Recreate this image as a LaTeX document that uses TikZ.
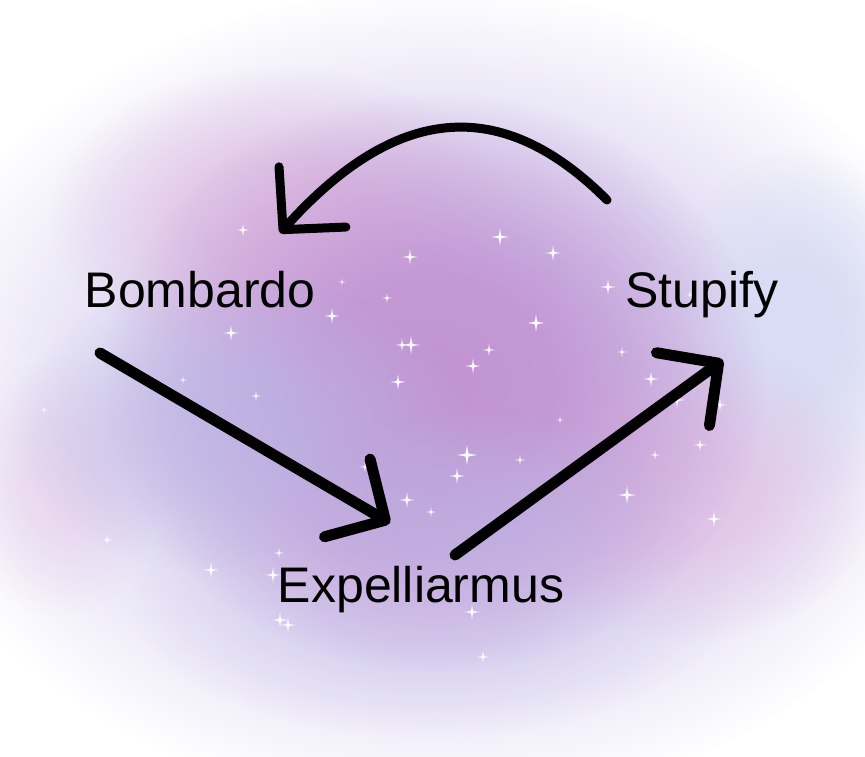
\documentclass[tikz,border=0pt]{standalone}
\usepackage{fontspec}
\setmainfont{Liberation Sans}
\usepackage{tikz}
\usetikzlibrary{arrows.meta,fadings}

% soft round blob: flat in the middle, fading out towards the rim
\pgfdeclareradialshading{blobshading}{\pgfpointorigin}{color(0bp)=(white); color(9bp)=(black!10); color(19bp)=(black!65); color(25bp)=(black); color(50bp)=(black)}
\pgfdeclarefading{blobfade}{\pgfuseshading{blobshading}}

\definecolor{mauve}{RGB}{194,148,210}
\definecolor{lavender}{RGB}{204,196,236}
\definecolor{pinkhaze}{RGB}{224,184,224}
\definecolor{bluehaze}{RGB}{186,184,230}
\definecolor{paleblue}{RGB}{216,220,244}

\newcommand{\twinkle}[3]{%
  \fill[white, opacity=0.4] (#1,#2) circle (0.4*#3);
  \fill[white, opacity=0.95] (#1,#2) +(0,1.3*#3) -- +(0.16*#3,0.16*#3) -- +(1.3*#3,0) -- +(0.16*#3,-0.16*#3)
    -- +(0,-1.3*#3) -- +(-0.16*#3,-0.16*#3) -- +(-1.3*#3,0) -- +(-0.16*#3,0.16*#3) -- cycle;}

\begin{document}
\begin{tikzpicture}[x=1pt, y=1pt,
  spellname/.style={font=\fontsize{50}{60}\selectfont, inner sep=0pt, anchor=base},
  spell/.style={line width=11pt, line cap=round, -{Straight Barb[length=44pt,width=90pt,round]}}]
\useasboundingbox (0,0) rectangle (865,757);
\fill[white] (0,0) rectangle (865,757);

% nebula
\fill[lavender, path fading=blobfade] (438,360) ellipse (540 and 410);
\fill[lavender, path fading=blobfade, opacity=0.6] (430,160) ellipse (300 and 140);
\fill[pinkhaze, path fading=blobfade, opacity=0.7] (280,540) ellipse (230 and 150);
\fill[paleblue, path fading=blobfade] (800,430) ellipse (130 and 180);
\fill[pinkhaze, path fading=blobfade, opacity=0.6] (690,265) ellipse (190 and 150);
\fill[pinkhaze, path fading=blobfade, opacity=0.35] (60,270) ellipse (100 and 130);
\fill[mauve, path fading=blobfade] (435,375) ellipse (330 and 290);
\fill[bluehaze, path fading=blobfade, opacity=0.6] (240,330) ellipse (230 and 150);
\fill[bluehaze, path fading=blobfade, opacity=0.45] (480,250) ellipse (190 and 100);

% sparkles
\foreach \px/\py/\ps in {243/527/5, 410/500/6, 500/520/7, 553/504/6, 342/475/3, 387/459/4,
  332/441/6, 231/424/6, 402/412/5, 411/412/7, 536/434/7, 489/407/5, 473/391/6, 398/375/6,
  256/361/4, 183/377/3, 467/302/8, 520/297/4, 457/281/6, 407/257/6, 431/245/4, 365/290/4,
  560/337/3, 622/405/4, 651/378/6, 677/357/6, 720/352/5, 700/312/5, 655/302/4, 627/262/7,
  714/238/6, 608/470/6, 690/462/3, 273/182/6, 280/137/6, 288/132/6, 472/145/6, 211/187/6,
  279/204/4, 483/100/5, 107/217/4, 44/347/3}
  \twinkle{\px}{\py}{\ps};

% spells
\node[spellname] (bomb)  at (200,449) {Bombardo};
\node[spellname] (stup)  at (702,449) {Stupify};
\node[spellname] (expel) at (421,154) {Expelliarmus};

\draw[spell, line width=9pt] ([shift={(-95,108)}]stup.base) to[out=135, in=48, looseness=1.25] ([shift={(80,75)}]bomb.base);
\draw[spell] ([shift={(-100,-45)}]bomb.base) -- ([shift={(-31,80)}]expel.base);
\draw[spell] ([shift={(34,48)}]expel.base) -- ([shift={(21,-52)}]stup.base);
\end{tikzpicture}
\end{document}
